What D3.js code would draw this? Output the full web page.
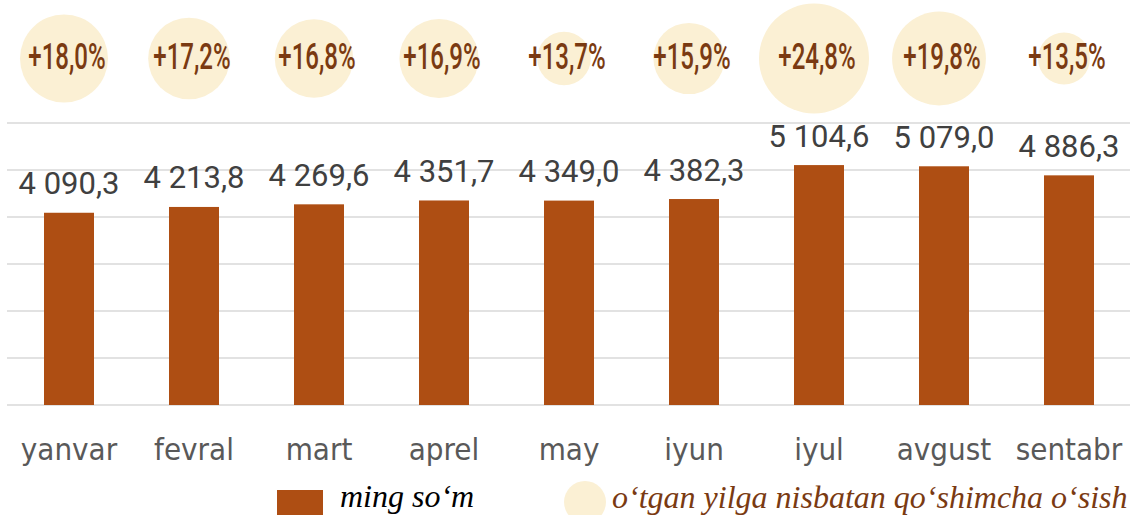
<!DOCTYPE html>
<html>
<head>
<meta charset="utf-8">
<script src="https://cdn.jsdelivr.net/npm/d3@7"></script>
<style>
  body { margin: 0; background: #fff; }
  svg { display: block; }
</style>
</head>
<body>
<svg id="chart" width="1130" height="515"></svg>
<script>
// oylar va qiymatlar
const months = ["yanvar", "fevral", "mart", "aprel", "may", "iyun", "iyul", "avgust", "sentabr"];
const wages = [4090.3, 4213.8, 4269.6, 4351.7, 4349.0, 4382.3, 5104.6, 5079.0, 4886.3];
const growth = [18.0, 17.2, 16.8, 16.9, 13.7, 15.9, 24.8, 19.8, 13.5];
const gridTicks = [0, 1000, 2000, 3000, 4000, 5000, 6000];
const legendLabels = ["ming so\u2018m", "o\u2018tgan yilga nisbatan qo\u2018shimcha o\u2018sish"];

const barColor = "#ae4e13";
const bubbleColor = "#fbf0d4";
const pctColor = "#7a3a12";

const svg = d3.select("#chart");

const loc = d3.formatLocale({ decimal: ",", thousands: "\u00a0", grouping: [3], currency: ["", ""] });
const fmtVal = loc.format(",.1f");
const fmtPct = loc.format("+.1f");

const x = d3.scaleBand()
  .domain(months)
  .range([6.5, 1131.5])
  .paddingInner(0.6)
  .paddingOuter(0.3);

const y = d3.scaleLinear()
  .domain([0, 6000])
  .range([405, 123]);

// pufakchalar radiusi
const r = d3.scaleLinear()
  .domain([13.5, 18, 24.8])
  .range([26, 44, 55]);

// gorizontal chiziqlar
svg.append("g")
  .selectAll("line")
  .data(gridTicks)
  .join("line")
  .attr("x1", 7)
  .attr("x2", 1130)
  .attr("y1", d => y(d))
  .attr("y2", d => y(d))
  .attr("stroke", "#d9d9d9")
  .attr("stroke-width", 1.5);

// ustunlar
svg.append("g")
  .selectAll("rect")
  .data(months)
  .join("rect")
  .attr("x", d => x(d))
  .attr("width", x.bandwidth())
  .attr("y", (d, i) => y(wages[i]))
  .attr("height", (d, i) => y(0) - y(wages[i]))
  .attr("fill", barColor);

// qiymat yorliqlari
svg.append("g")
  .selectAll("text")
  .data(months)
  .join("text")
  .attr("x", d => x(d) + x.bandwidth() / 2)
  .attr("y", (d, i) => y(wages[i]) - 18.5)
  .attr("text-anchor", "middle")
  .attr("font-family", "Roboto, sans-serif")
  .attr("font-size", 31)
  .attr("fill", "#404040")
  .text((d, i) => fmtVal(wages[i]));

// x o'qi
const xAxis = svg.append("g")
  .attr("transform", "translate(0,405)")
  .call(d3.axisBottom(x).tickSize(0).tickPadding(0));
xAxis.select(".domain").remove();
xAxis.selectAll("text")
  .attr("y", 55)
  .attr("dy", 0)
  .attr("font-family", "'DejaVu Sans Condensed', 'DejaVu Sans', sans-serif")
  .style("font-stretch", "condensed")
  .attr("font-size", 31)
  .attr("fill", "#595959");

// o'sish pufakchalari
const bub = svg.append("g")
  .selectAll("g")
  .data(months)
  .join("g");

bub.append("circle")
  .attr("cx", d => x(d) + x.bandwidth() / 2 - 5)
  .attr("cy", 58.5)
  .attr("r", (d, i) => r(growth[i]))
  .attr("fill", bubbleColor);

bub.append("text")
  .attr("transform", d => `translate(${x(d) + x.bandwidth() / 2 - 2},69) scale(0.65,1)`)
  .attr("text-anchor", "middle")
  .attr("font-family", "Roboto, sans-serif")
  .attr("font-weight", 500)
  .attr("font-size", 37)
  .attr("fill", pctColor)
  .text((d, i) => fmtPct(growth[i]) + "%");

// legenda
const leg = svg.append("g");
leg.append("rect")
  .attr("x", 277).attr("y", 490)
  .attr("width", 46).attr("height", 26)
  .attr("fill", barColor);
leg.append("text")
  .attr("x", 340).attr("y", 507)
  .attr("font-family", "'Liberation Serif', serif")
  .attr("font-style", "italic")
  .attr("font-size", 32)
  .attr("fill", "#000")
  .text(legendLabels[0]);
leg.append("circle")
  .attr("cx", 585).attr("cy", 502).attr("r", 21)
  .attr("fill", bubbleColor);
leg.append("text")
  .attr("x", 612).attr("y", 508)
  .attr("font-family", "'Liberation Serif', serif")
  .attr("font-style", "italic")
  .attr("font-size", 32)
  .attr("fill", pctColor)
  .text(legendLabels[1]);
</script>
</body>
</html>
